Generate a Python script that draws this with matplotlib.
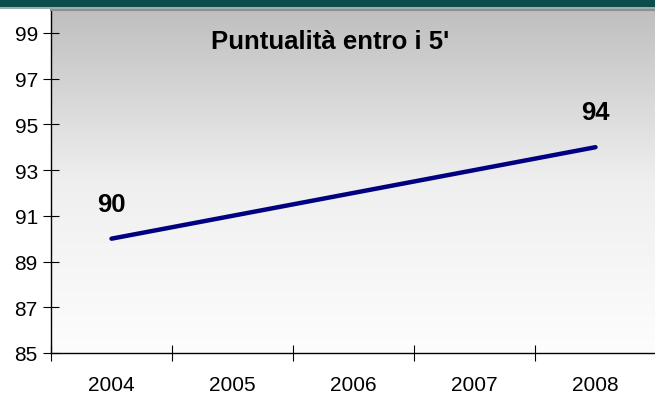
import numpy as np
import matplotlib.pyplot as plt
from matplotlib.patches import Rectangle
from matplotlib.colors import LinearSegmentedColormap

plt.rcParams['font.family'] = ['Liberation Sans', 'DejaVu Sans']

anni = ['2004', '2005', '2006', '2007', '2008']
puntualita = [90, 91, 92, 93, 94]
y_ticks = [85, 87, 89, 91, 93, 95, 97, 99]
titolo = "Puntualità entro i 5'"

fig = plt.figure(figsize=(6.55, 4.02), dpi=100)
fig.patch.set_facecolor('white')

# dark band along the top edge
fig.patches.append(Rectangle((0, 394 / 402), 1, 8 / 402, transform=fig.transFigure,
                             facecolor='#0c4c4c', edgecolor='none', zorder=0))
fig.patches.append(Rectangle((0, 392.5 / 402), 1, 1.5 / 402, transform=fig.transFigure,
                             facecolor='#9aaeae', edgecolor='none', zorder=0))

ax = fig.add_axes([51 / 655, 48 / 402, 605 / 655, 343 / 402])

x = np.arange(len(anni))
ax.set_xlim(-0.5, len(anni) - 0.5)
ax.set_ylim(85, 100)

# grey-to-white vertical gradient behind the plot
grad = np.linspace(0, 1, 256).reshape(-1, 1)
cmap = LinearSegmentedColormap.from_list('g', ['#fdfdfd', '#efefef', '#bfbfbf'])
ax.imshow(grad, cmap=cmap, aspect='auto', origin='lower',
          extent=[-0.5, len(anni) - 0.5, 85, 100], zorder=0)

ax.plot(x, puntualita, color='#000080', lw=3.2, solid_capstyle='round', zorder=3)

for i in (0, len(anni) - 1):
    ax.text(x[i], puntualita[i] + 1.52, str(puntualita[i]), ha='center', va='center',
            fontsize=18.5, fontweight='bold', color='black')

ax.text(0.461, 0.91, titolo, transform=ax.transAxes, ha='center', va='center',
        fontsize=18.5, fontweight='bold', color='black')

ax.set_yticks(y_ticks)
ax.set_yticklabels([str(v) for v in y_ticks])
ax.set_xticks(x)
ax.set_xticklabels(anni)
ax.set_xticks(np.arange(-0.5, len(anni)), minor=True)
ax.tick_params(axis='x', which='major', length=0, pad=16, labelsize=15)
ax.tick_params(axis='x', which='minor', length=11, direction='inout', width=0.8)
ax.tick_params(axis='y', length=11, direction='inout', width=0.8, pad=4, labelsize=15)

for s in ('left', 'bottom'):
    ax.spines[s].set_color('black')
    ax.spines[s].set_linewidth(1)
ax.spines['top'].set_color('#909090')
ax.spines['top'].set_linewidth(1.5)
ax.spines['right'].set_visible(False)

fig.savefig('out.png', dpi=100)
